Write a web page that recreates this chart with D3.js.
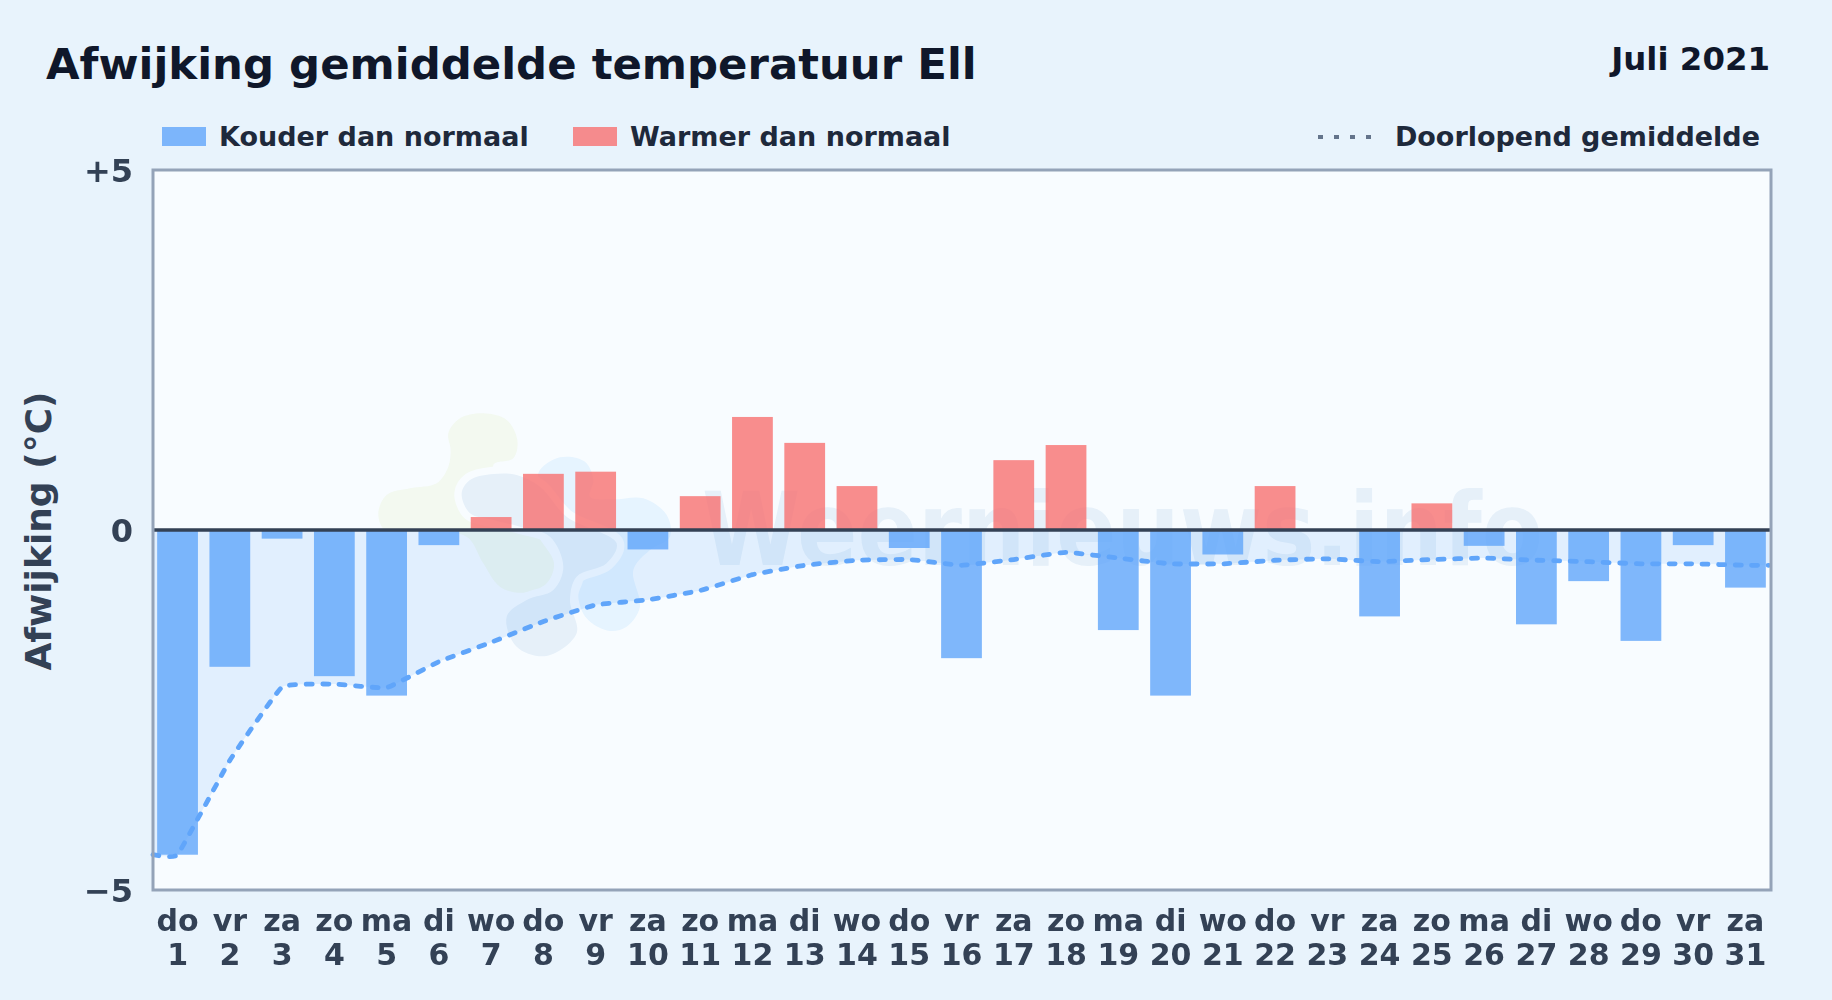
<!DOCTYPE html>
<html>

<head>
    <meta charset="utf-8">
    <style>
        html, body { margin: 0; padding: 0; background: #e8f3fc; }
        svg { display: block; }
        text { font-family: "DejaVu Sans", sans-serif; font-weight: bold; }
    </style>
</head>

<body>
    <svg width="1832" height="1000"></svg>
    <script src="https://d3js.org/d3.v7.min.js"></script>
    <script>
        // values
        var days = d3.range(1, 32);
        var weekdays = ['do', 'vr', 'za', 'zo', 'ma', 'di', 'wo', 'do', 'vr', 'za', 'zo', 'ma', 'di', 'wo', 'do', 'vr',
            'za', 'zo', 'ma', 'di', 'wo', 'do', 'vr', 'za', 'zo', 'ma', 'di', 'wo', 'do', 'vr', 'za'];
        var deviation = [-4.51, -1.9, -0.12, -2.03, -2.3, -0.21, 0.18, 0.78, 0.81, -0.27, 0.47, 1.57, 1.21, 0.61, -0.25, -1.78,
            0.97, 1.18, -1.39, -2.3, -0.34, 0.61, 0, -1.2, 0.37, -0.22, -1.31, -0.71, -1.54, -0.21, -0.8];
        var runningMean = [-4.51, -3.2, -2.18, -2.14, -2.19, -1.83, -1.56, -1.27, -1.04, -0.97, -0.84, -0.62, -0.49, -0.42, -0.41, -0.49,
            -0.41, -0.31, -0.39, -0.47, -0.47, -0.42, -0.4, -0.44, -0.41, -0.39, -0.42, -0.44, -0.47, -0.47, -0.49];
        var yTicks = [-5, 0, 5];

        var svg = d3.select("svg"),
            plot = { left: 153, right: 1771, top: 170, bottom: 890 };

        var x = d3.scaleBand()
            .domain(days)
            .range([plot.left, plot.right - 1])
            .paddingInner(0.22)
            .paddingOuter(0.08);

        var y = d3.scaleLinear()
            .domain([-5, 5])
            .range([plot.bottom, plot.top]);

        var center = function (d) { return x(d) + x.bandwidth() / 2 };

        // plot background
        svg.append('rect')
            .attr('x', plot.left)
            .attr('y', plot.top)
            .attr('width', plot.right - plot.left)
            .attr('height', plot.bottom - plot.top)
            .attr('fill', '#f8fcff');

        // watermark: logo blobs + site name
        var blob = d3.line().curve(d3.curveCatmullRomClosed.alpha(0.5));
        var logo = [
            { fill: '#46acff', halo: false, p: [[535, 220], [600, 172], [675, 185], [700, 240], [690, 290], [760, 298], [850, 295], [920, 345], [930, 410], [870, 450], [820, 510], [840, 620], [800, 680], [745, 692], [680, 655], [655, 590], [670, 530], [620, 400], [560, 300]] },
            { fill: '#c6de69', halo: false, p: [[265, 100], [300, 55], [370, 40], [440, 60], [472, 120], [460, 175], [400, 195], [450, 300], [545, 425], [582, 490], [560, 550], [490, 578], [420, 560], [370, 490], [320, 410], [200, 395], [75, 390], [55, 340], [80, 285], [150, 265], [230, 250], [265, 200], [272, 150]] },
            { fill: '#4684c3', halo: true, p: [[305, 280], [330, 240], [400, 222], [470, 225], [540, 260], [620, 350], [770, 430], [740, 490], [650, 530], [630, 600], [650, 700], [560, 768], [470, 740], [440, 650], [500, 600], [580, 570], [610, 500], [570, 410], [480, 380], [400, 360], [330, 340]] }
        ];
        var watermark = svg.append('g').attr('opacity', 0.1);
        var logoG = watermark.append('g').attr('transform', 'translate(360,400) scale(0.3333)');
        logo.forEach(function (b) {
            logoG.append('path')
                .attr('d', blob(b.p))
                .attr('fill', b.fill)
                .attr('stroke', b.halo ? '#fff' : 'none')
                .attr('stroke-width', 44)
                .attr('paint-order', 'stroke');
        });
        watermark.append('text')
            .text('Weernieuws.info')
            .attr('x', 702)
            .attr('y', 565)
            .attr('font-size', 102)
            .attr('textLength', 841)
            .attr('lengthAdjust', 'spacingAndGlyphs')
            .attr('fill', '#4684c3');

        // running mean, held flat to both plot edges
        var meanData = runningMean.map(function (v, i) { return { x: center(days[i]), v: v } });
        meanData.unshift({ x: plot.left, v: runningMean[0] });
        meanData.push({ x: plot.right - 2, v: runningMean[runningMean.length - 1] });

        var curve = d3.curveCardinal.tension(0.72);

        var area = d3.area()
            .curve(curve)
            .x(function (d) { return d.x })
            .y0(y(0))
            .y1(function (d) { return y(d.v) });

        svg.append('path')
            .datum(meanData)
            .attr('d', area)
            .attr('fill', '#60a5fa')
            .attr('opacity', 0.15);

        // bars
        svg.append('g').selectAll('rect')
            .data(days.filter(function (d, i) { return deviation[i] != 0 }))
            .enter().append('rect')
            .attr('x', function (d) { return x(d) })
            .attr('y', function (d) { return y(Math.max(0, deviation[d - 1])) })
            .attr('width', x.bandwidth())
            .attr('height', function (d) { return Math.abs(y(deviation[d - 1]) - y(0)) })
            .attr('fill', function (d) { return deviation[d - 1] < 0 ? '#60a5fa' : '#f87171' })
            .attr('opacity', 0.8);

        var line = d3.line()
            .curve(curve)
            .x(function (d) { return d.x })
            .y(function (d) { return y(d.v) });

        svg.append('path')
            .datum(meanData)
            .attr('d', line)
            .attr('fill', 'none')
            .attr('stroke', '#60a5fa')
            .attr('stroke-width', 4.8)
            .attr('stroke-linecap', 'round')
            .attr('stroke-dasharray', '6 10.5');

        // zero line
        svg.append('line')
            .attr('x1', plot.left)
            .attr('x2', plot.right)
            .attr('y1', y(0))
            .attr('y2', y(0))
            .attr('stroke', '#334155')
            .attr('stroke-width', 3.6);

        // frame
        svg.append('rect')
            .attr('x', plot.left)
            .attr('y', plot.top)
            .attr('width', plot.right - plot.left)
            .attr('height', plot.bottom - plot.top)
            .attr('fill', 'none')
            .attr('stroke', '#94a3b8')
            .attr('stroke-width', 3);

        // axes
        var yAxis = svg.append('g')
            .attr('transform', 'translate(' + plot.left + ',1)')
            .call(d3.axisLeft(y)
                .tickValues(yTicks)
                .tickSize(0)
                .tickPadding(20)
                .tickFormat(function (d) { return d > 0 ? '+' + d : d < 0 ? '\u2212' + (-d) : '0' }));
        yAxis.select('.domain').remove();
        yAxis.selectAll('text')
            .attr('font-size', 32)
            .attr('font-family', null)
            .attr('fill', '#334155');

        var xAxis = svg.append('g')
            .attr('transform', 'translate(0,' + plot.bottom + ')')
            .call(d3.axisBottom(x).tickSize(0).tickFormat(function () { return '' }));
        xAxis.select('.domain').remove();
        xAxis.selectAll('.tick text').each(function (d, i) {
            var t = d3.select(this).attr('y', 0).attr('dy', null).attr('font-size', 30).attr('font-family', null).attr('fill', '#334155');
            t.append('tspan').attr('x', 0).attr('y', 41).text(weekdays[i]);
            t.append('tspan').attr('x', 0).attr('y', 75).text(d);
        });

        svg.append('text')
            .text('Afwijking (\u00b0C)')
            .attr('transform', 'translate(51,531) rotate(-90)')
            .attr('text-anchor', 'middle')
            .attr('font-size', 36)
            .attr('fill', '#334155');

        // title
        svg.append('text')
            .text('Afwijking gemiddelde temperatuur Ell')
            .attr('x', 46)
            .attr('y', 79)
            .attr('font-size', 43.4)
            .attr('fill', '#0f172a');

        svg.append('text')
            .text('Juli 2021')
            .attr('x', 1770)
            .attr('y', 70)
            .attr('text-anchor', 'end')
            .attr('font-size', 32.4)
            .attr('fill', '#0f172a');

        // legend
        var legend = svg.append('g');
        [['Kouder dan normaal', '#60a5fa', 162], ['Warmer dan normaal', '#f87171', 573]].forEach(function (l) {
            legend.append('rect')
                .attr('x', l[2])
                .attr('y', 127)
                .attr('width', 44)
                .attr('height', 19)
                .attr('fill', l[1])
                .attr('opacity', 0.8);
            legend.append('text')
                .text(l[0])
                .attr('x', l[2] + 57)
                .attr('y', 146)
                .attr('font-size', 27)
                .attr('fill', '#1e293b');
        });
        legend.append('line')
            .attr('x1', 1318)
            .attr('x2', 1372)
            .attr('y1', 137)
            .attr('y2', 137)
            .attr('stroke', '#64748b')
            .attr('stroke-width', 4)
            .attr('stroke-dasharray', '5 11');
        legend.append('text')
            .text('Doorlopend gemiddelde')
            .attr('x', 1760)
            .attr('y', 146)
            .attr('text-anchor', 'end')
            .attr('font-size', 27)
            .attr('fill', '#1e293b');
    </script>
</body>

</html>
